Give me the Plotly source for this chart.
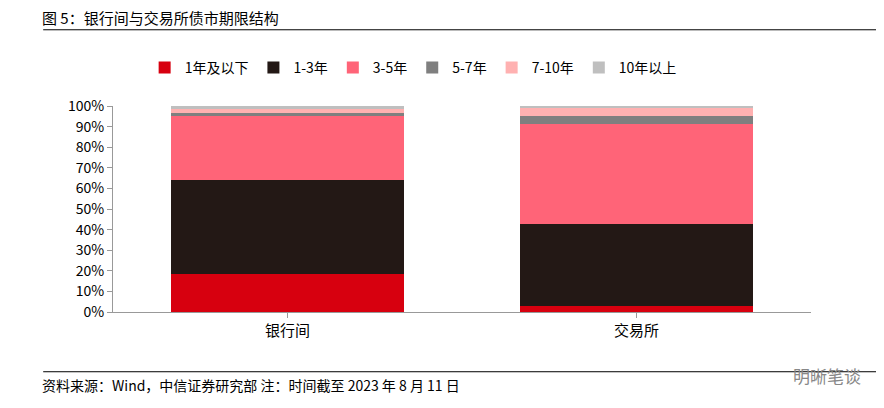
import plotly.graph_objects as go

categories = ["银行间", "交易所"]
series_names = ["1年及以下", "1-3年", "3-5年", "5-7年", "7-10年", "10年以上"]
values = [
    [18.3, 2.9],
    [45.8, 39.8],
    [31.0, 48.6],
    [1.5, 3.7],
    [2.1, 4.5],
    [1.3, 0.5],
]
colors = ["#D7000F", "#231815", "#FF6478", "#7F7F7F", "#FFB1B1", "#BFBFBF"]

fig = go.Figure()
for name, vals, c in zip(series_names, values, colors):
    fig.add_trace(go.Bar(x=categories, y=vals, name=name, marker_color=c,
                         marker_line_width=0, width=0.667))

font = "Noto Sans CJK SC"
fig.update_layout(
    barmode="stack",
    width=884, height=408,
    margin=dict(l=105, r=81, t=98, b=104, autoexpand=False),
    paper_bgcolor="white", plot_bgcolor="white",
    font=dict(family=font, size=14, color="#000"),
    legend=dict(orientation="h", x=0.43, xanchor="center", y=1.185, yanchor="middle",
                font=dict(size=14), itemwidth=30, traceorder="normal"),
    xaxis=dict(showline=True, linecolor="#999", ticks="outside", tickcolor="#999",
               tickfont=dict(size=15)),
    yaxis=dict(range=[0, 100], dtick=10, ticksuffix="%", showline=True, linecolor="#999",
               ticks="outside", tickcolor="#999", showgrid=False, tickfont=dict(size=14)),
    shapes=[
        dict(type="line", xref="paper", yref="paper", x0=-0.1, x1=1.105, y0=1.37, y1=1.37,
             line=dict(color="#000", width=1)),
        dict(type="line", xref="paper", yref="paper", x0=-0.1, x1=1.105, y0=-0.29, y1=-0.29,
             line=dict(color="#000", width=1)),
    ],
    annotations=[
        dict(text="图 5：银行间与交易所债市期限结构", xref="paper", yref="paper", x=-0.105, y=1.43,
             xanchor="left", yanchor="middle", showarrow=False, font=dict(size=15)),
        dict(text="资料来源：Wind，中信证券研究部 注：时间截至 2023 年 8 月 11 日", xref="paper",
             yref="paper", x=-0.105, y=-0.355, xanchor="left", yanchor="middle",
             showarrow=False, font=dict(size=14)),
        dict(text="明晰笔谈", xref="paper", yref="paper", x=1.075, y=-0.31, xanchor="right",
             yanchor="middle", showarrow=False, font=dict(size=17, color="#888")),
    ],
)
fig.write_html("out.html")
